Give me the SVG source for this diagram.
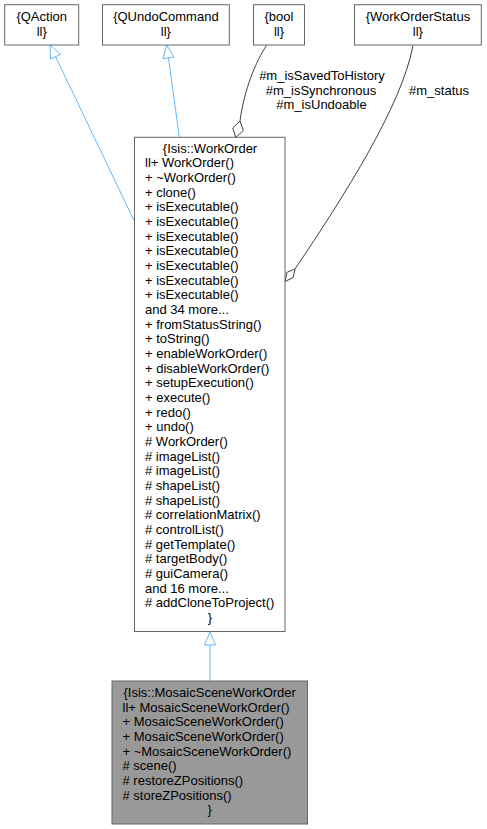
<svg xmlns="http://www.w3.org/2000/svg" width="487" height="829" viewBox="0 0 487 829">
<style>
text{font-family:"Liberation Sans",Arial,Helvetica,sans-serif;font-size:13px;fill:#000}
.c{text-anchor:middle}
.box{fill:#fff;stroke:#666;stroke-width:1}
.cur{fill:#999;stroke:#666;stroke-width:1}
.inh{fill:none;stroke:#63b8ff;stroke-width:1}
.inhh{fill:#fff;stroke:#63b8ff;stroke-width:1}
.agg{fill:none;stroke:#404040;stroke-width:1}
.aggh{fill:#fff;stroke:#404040;stroke-width:1}
</style>
<rect width="487" height="829" fill="#fff"/>
<g id="connectors">
<path class="inh" d="M55.6,56.7 L134.5,221.5"/>
<polygon class="inhh" points="50,45 60.6,54.3 50.6,59.1"/>
<path class="inh" d="M168.5,57.9 L179.3,137"/>
<polygon class="inhh" points="166.7,45 173.9,57.1 163,58.6"/>
<path class="agg" d="M266.5,45.5 C256,61 244,90 240,121"/>
<polygon class="aggh" points="235.8,137.5 243.3,130.6 240,121 232.7,128"/>
<text class="c" x="322" y="80">#m_isSavedToHistory</text>
<text class="c" x="321" y="94.5">#m_isSynchronous</text>
<text class="c" x="321.5" y="109">#m_isUndoable</text>
<path class="agg" d="M413,45.5 C402,105 345,195 295,269"/>
<polygon class="aggh" points="285,281.5 293.1,277.6 295,269 286.9,272.4"/>
<text class="c" x="439" y="94.5">#m_status</text>
<path class="inh" d="M210,645 L210,681"/>
<polygon class="inhh" points="210,632 215.5,645 204.5,645"/>
</g>
<g id="QAction">
<rect class="box" x="4.7" y="4.7" width="74" height="40.3"/>
<text class="c" x="41.7" y="21">{QAction</text>
<text class="c" x="41.7" y="35.7">ll}</text>
</g>
<g id="QUndoCommand">
<rect class="box" x="102.5" y="4.7" width="126.8" height="40.3"/>
<text class="c" x="165.9" y="21">{QUndoCommand</text>
<text class="c" x="165.9" y="35.7">ll}</text>
</g>
<g id="bool">
<rect class="box" x="253.5" y="4.7" width="51" height="40.3"/>
<text class="c" x="279" y="21">{bool</text>
<text class="c" x="279" y="35.7">ll}</text>
</g>
<g id="WorkOrderStatus">
<rect class="box" x="354.5" y="4.7" width="126.8" height="40.3"/>
<text class="c" x="417.9" y="21">{WorkOrderStatus</text>
<text class="c" x="417.9" y="35.7">ll}</text>
</g>
<g id="WorkOrder">
<rect class="box" x="134.5" y="137.3" width="150.5" height="494.2"/>
<text class="c" x="210" y="152.7">{Isis::WorkOrder</text>
<text x="145" y="167.4">ll+ WorkOrder()</text>
<text x="145" y="182.1">+ ~WorkOrder()</text>
<text x="145" y="196.7">+ clone()</text>
<text x="145" y="211.4">+ isExecutable()</text>
<text x="145" y="226.1">+ isExecutable()</text>
<text x="145" y="240.7">+ isExecutable()</text>
<text x="145" y="255.4">+ isExecutable()</text>
<text x="145" y="270.1">+ isExecutable()</text>
<text x="145" y="284.7">+ isExecutable()</text>
<text x="145" y="299.4">+ isExecutable()</text>
<text x="145" y="314.1">and 34 more...</text>
<text x="145" y="328.7">+ fromStatusString()</text>
<text x="145" y="343.4">+ toString()</text>
<text x="145" y="358.1">+ enableWorkOrder()</text>
<text x="145" y="372.7">+ disableWorkOrder()</text>
<text x="145" y="387.4">+ setupExecution()</text>
<text x="145" y="402.1">+ execute()</text>
<text x="145" y="416.7">+ redo()</text>
<text x="145" y="431.4">+ undo()</text>
<text x="145" y="446.1"># WorkOrder()</text>
<text x="145" y="460.7"># imageList()</text>
<text x="145" y="475.4"># imageList()</text>
<text x="145" y="490.1"># shapeList()</text>
<text x="145" y="504.7"># shapeList()</text>
<text x="145" y="519.4"># correlationMatrix()</text>
<text x="145" y="534.1"># controlList()</text>
<text x="145" y="548.7"># getTemplate()</text>
<text x="145" y="563.4"># targetBody()</text>
<text x="145" y="578.1"># guiCamera()</text>
<text x="145" y="592.7">and 16 more...</text>
<text x="145" y="607.4"># addCloneToProject()</text>
<text class="c" x="210" y="622.1">}</text>
</g>
<g id="MosaicSceneWorkOrder">
<rect class="cur" x="112" y="681" width="195.5" height="143"/>
<text class="c" x="209.7" y="697">{Isis::MosaicSceneWorkOrder</text>
<text x="122.5" y="711.7">ll+ MosaicSceneWorkOrder()</text>
<text x="122.5" y="726.3">+ MosaicSceneWorkOrder()</text>
<text x="122.5" y="741">+ MosaicSceneWorkOrder()</text>
<text x="122.5" y="755.7">+ ~MosaicSceneWorkOrder()</text>
<text x="122.5" y="770.3"># scene()</text>
<text x="122.5" y="785"># restoreZPositions()</text>
<text x="122.5" y="799.7"># storeZPositions()</text>
<text class="c" x="209.7" y="814.3">}</text>
</g>
</svg>
